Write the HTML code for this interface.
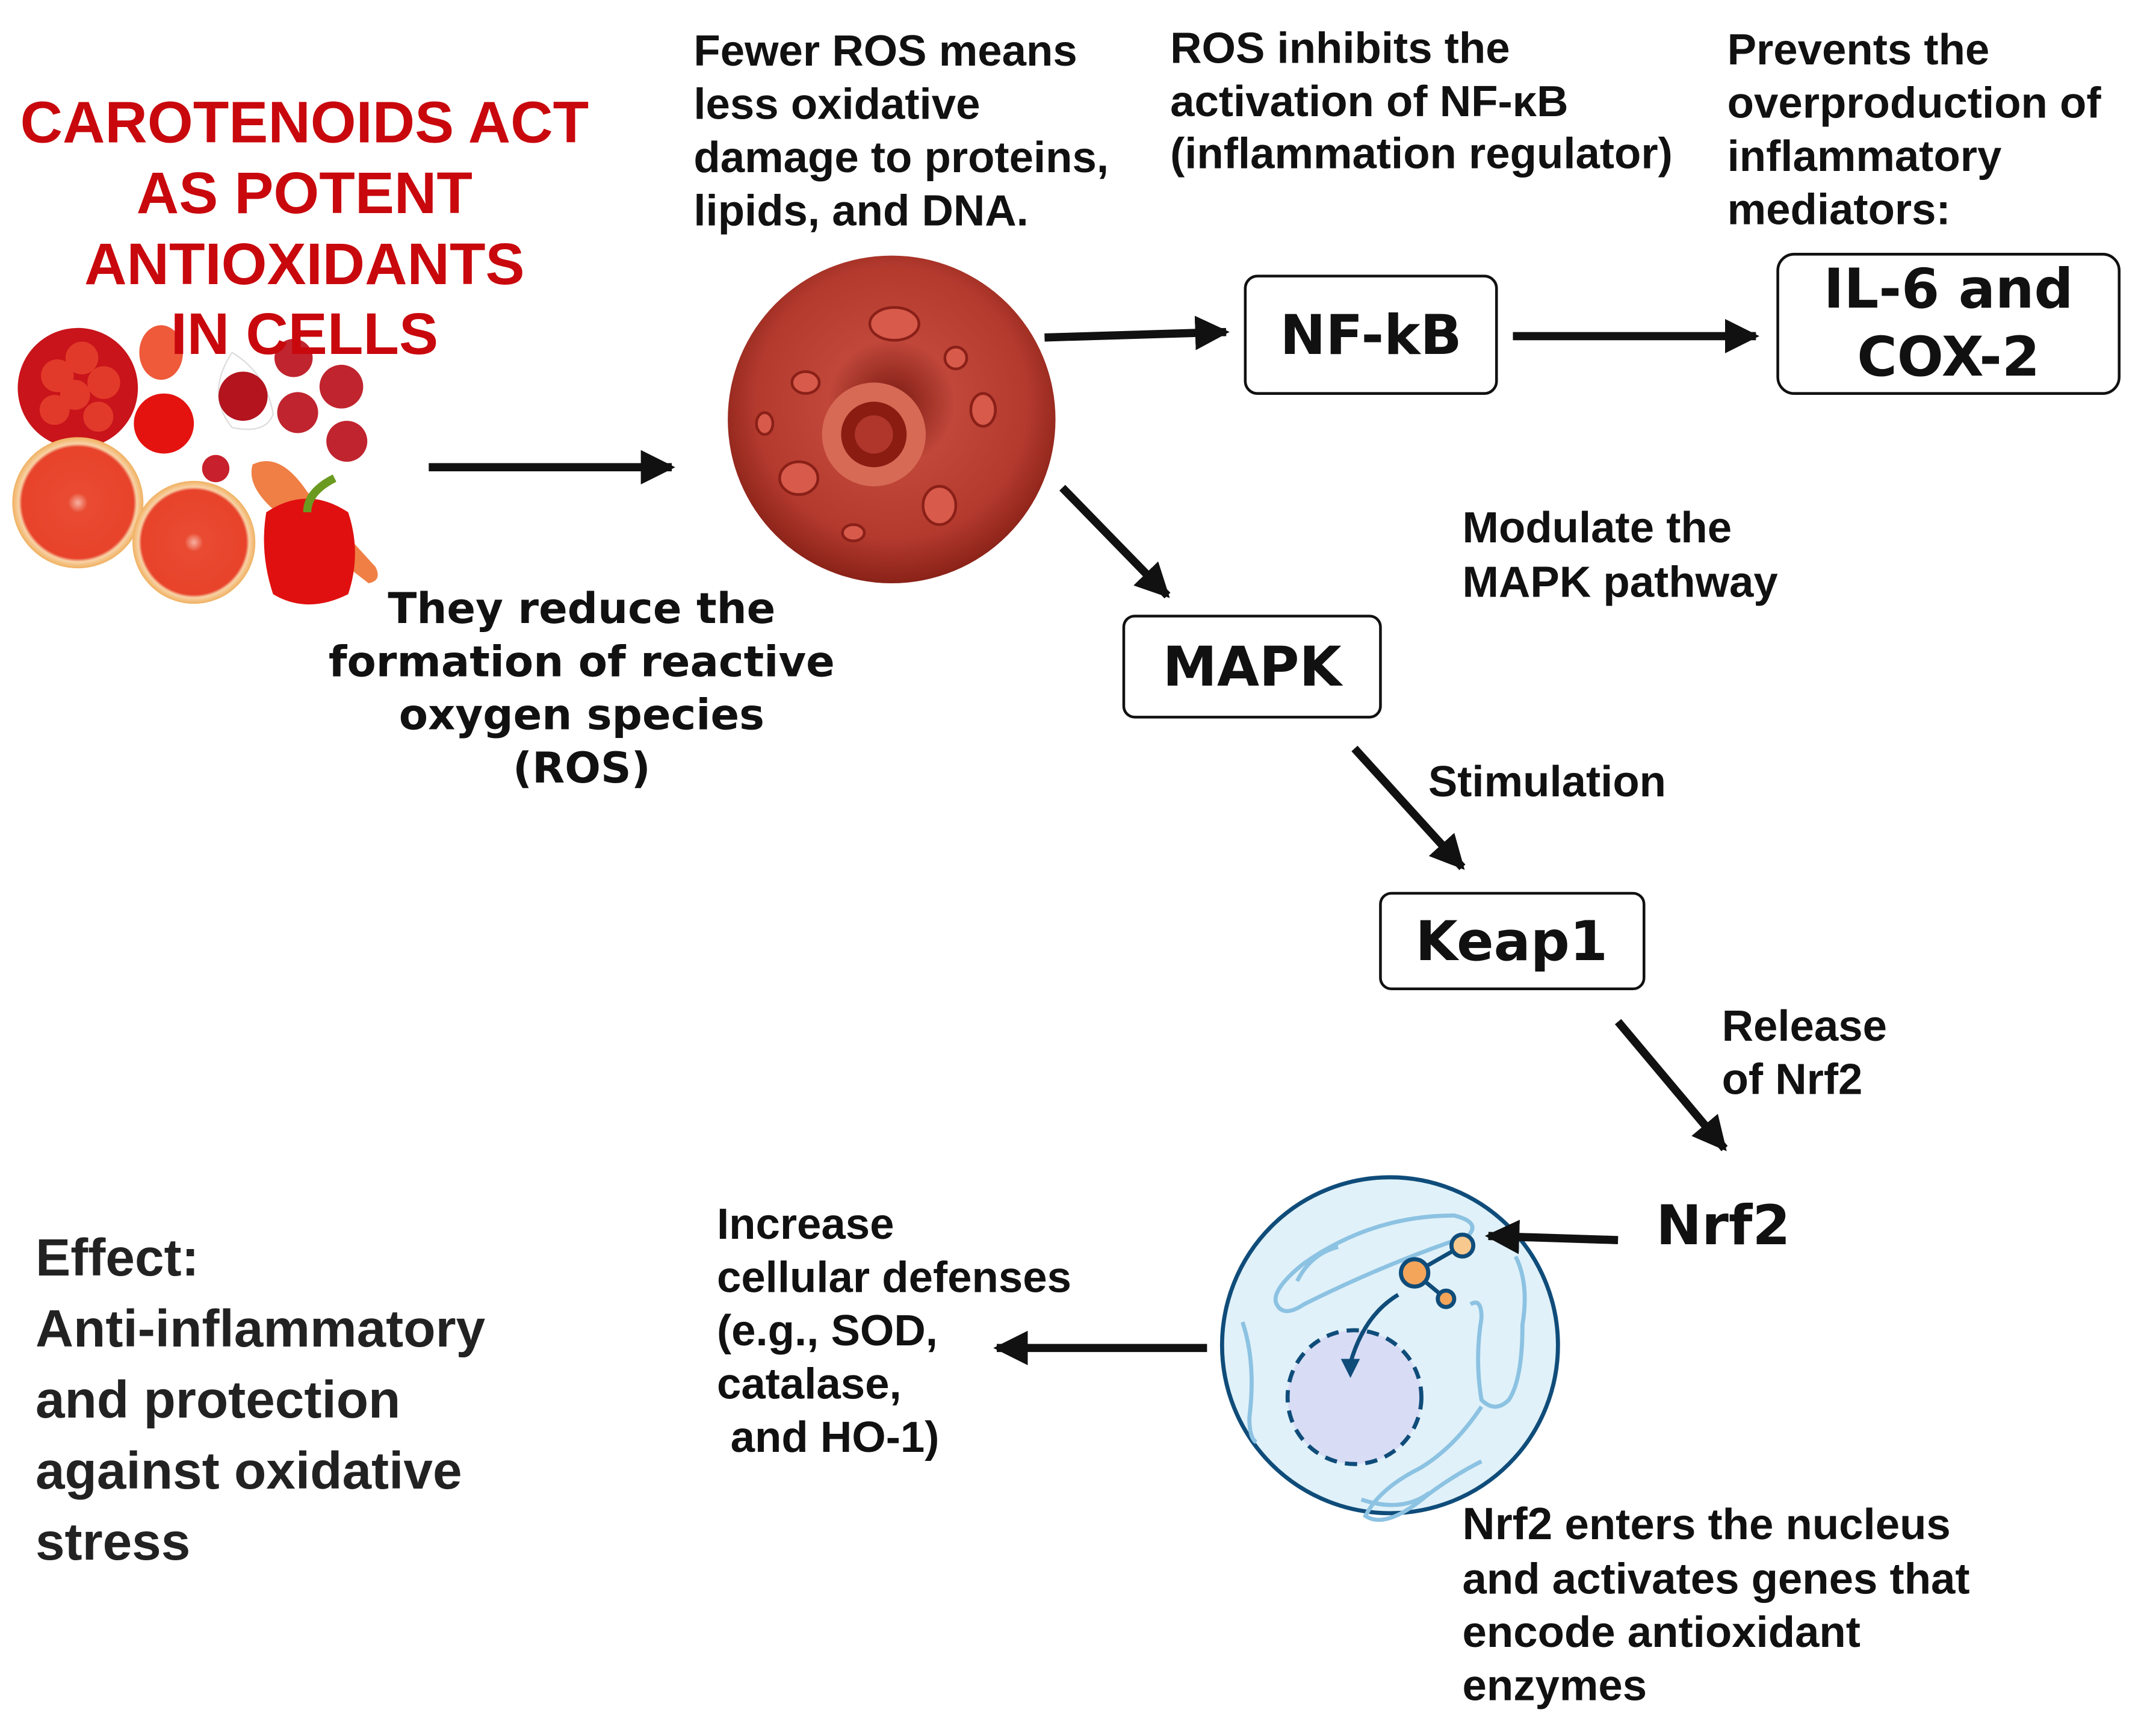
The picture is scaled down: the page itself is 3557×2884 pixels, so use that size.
<!DOCTYPE html>
<html><head><meta charset="utf-8"><style>
html,body{margin:0;padding:0;background:#fff}
svg{display:block}
text{font-family:"Liberation Sans",Arial,sans-serif}
.dv text{font-family:"DejaVu Sans","Liberation Sans",sans-serif}
</style></head><body>
<svg width="3557" height="2884" viewBox="0 0 1568 1271" xmlns="http://www.w3.org/2000/svg">
<defs>
<marker id="ah" viewBox="0 0 10 10" refX="9" refY="5" markerWidth="4.2" markerHeight="4.2" orient="auto" markerUnits="strokeWidth">
<path d="M0,0 L10,5 L0,10 Z" fill="#111"/></marker>
<radialGradient id="cellg" cx="50%" cy="45%" r="55%">
<stop offset="0" stop-color="#7a1a12"/><stop offset="0.35" stop-color="#c0473a"/><stop offset="0.75" stop-color="#b43a2e"/><stop offset="1" stop-color="#8a2218"/></radialGradient>
<radialGradient id="gf" cx="50%" cy="50%" r="50%"><stop offset="0" stop-color="#f7b0a0"/><stop offset="0.15" stop-color="#e94b32"/><stop offset="0.85" stop-color="#e8432b"/><stop offset="0.9" stop-color="#f8d2a6"/><stop offset="1" stop-color="#f0b060"/></radialGradient>
</defs>

<g>
<circle cx="57" cy="284" r="44" fill="#c8141a"/>
<circle cx="42" cy="275" r="12" fill="#e23a2a"/><circle cx="60" cy="262" r="12" fill="#e23a2a"/><circle cx="76" cy="280" r="12" fill="#e23a2a"/><circle cx="55" cy="289" r="11" fill="#e23a2a"/><circle cx="40" cy="300" r="11" fill="#e23a2a"/><circle cx="72" cy="305" r="11" fill="#e23a2a"/>
<ellipse cx="118" cy="258" rx="16" ry="20" fill="#ee5a3a"/>
<path d="M170,258 q-20,30 0,55 q25,5 30,-10 q-5,-30 -30,-45z" fill="#fff" stroke="#ddd"/>
<circle cx="178" cy="290" r="18" fill="#b3141e"/>
<circle cx="120" cy="310" r="22" fill="#e4130f"/>
<circle cx="215" cy="262" r="14" fill="#c0242e"/><circle cx="250" cy="283" r="16" fill="#c0242e"/><circle cx="218" cy="302" r="15" fill="#c0242e"/><circle cx="254" cy="323" r="15" fill="#c0242e"/><circle cx="158" cy="343" r="10" fill="#c8202c"/>
<path d="M185,340 q20,-10 40,20 l50,55 q5,10 -5,12 l-65,-50 q-25,-20 -20,-37z" fill="#ef7f45"/>
<circle cx="57" cy="368" r="48" fill="url(#gf)"/>
<circle cx="142" cy="397" r="45" fill="url(#gf)"/>
<path d="M195,375 q30,-20 60,0 q10,30 0,60 q-30,15 -55,0 q-10,-30 -5,-60z" fill="#e01010"/>
<path d="M225,375 q0,-15 20,-25" stroke="#6a9a20" stroke-width="6" fill="none"/>
</g>

<g font-weight="bold" font-size="43" fill="#c8080d" text-anchor="middle">
<text x="223" y="104">CAROTENOIDS ACT</text>
<text x="223" y="156">AS POTENT</text>
<text x="223" y="208">ANTIOXIDANTS</text>
<text x="223" y="259">IN CELLS</text>
</g>

<circle cx="653" cy="307" r="120" fill="url(#cellg)"/>
<g fill="#d85a4a" stroke="#8a2018" stroke-width="2">
<ellipse cx="655" cy="237" rx="18" ry="12"/><ellipse cx="590" cy="280" rx="10" ry="8"/><ellipse cx="585" cy="350" rx="14" ry="12"/><ellipse cx="688" cy="370" rx="12" ry="14"/><ellipse cx="720" cy="300" rx="9" ry="12"/><ellipse cx="700" cy="262" rx="8" ry="8"/><ellipse cx="625" cy="390" rx="8" ry="6"/><ellipse cx="560" cy="310" rx="6" ry="8"/>
</g>
<circle cx="640" cy="318" r="38" fill="#d76a55"/><circle cx="640" cy="318" r="24" fill="#8a1c12"/><circle cx="640" cy="318" r="14" fill="#b0352a"/>

<circle cx="1018" cy="985" r="123" fill="#e0f1f9" stroke="#0f4c7a" stroke-width="3"/>
<g stroke="#8cc2e2" stroke-width="3" fill="none">
<path d="M955,955 q60,-30 120,-50 q10,-10 -10,-15 q-60,0 -110,35 q-25,20 -20,30 q5,10 20,0z"/>
<path d="M980,913 q-20,5 -30,25"/>
<path d="M1110,920 q10,20 5,50 q0,40 -10,55 q-10,10 -20,0 q-5,-30 0,-60 q0,-15 -8,-10"/>
<path d="M1085,1030 q-20,30 -45,45 q-30,15 -40,35 q15,10 45,-15 q20,-15 40,-25"/>
<path d="M910,968 q10,30 5,70 q0,15 5,18"/>
<path d="M997,1098 q30,10 50,-5"/>
</g>
<circle cx="992" cy="1023" r="49" fill="#d8dcf5" stroke="#0f4c7a" stroke-width="3" stroke-dasharray="9,6"/>
<path d="M1024,948 q-25,15 -35,50" stroke="#0f4c7a" stroke-width="3" fill="none"/>
<path d="M982,995 l7,14 l7,-14z" fill="#0f4c7a"/>
<g stroke="#0f4c7a" stroke-width="3"><line x1="1036" y1="932" x2="1071" y2="912"/><line x1="1036" y1="932" x2="1059" y2="951"/></g>
<circle cx="1036" cy="932" r="10" fill="#f5a55a" stroke="#0f4c7a" stroke-width="3"/>
<circle cx="1071" cy="912" r="8" fill="#f8c98e" stroke="#0f4c7a" stroke-width="3"/>
<circle cx="1059" cy="951" r="6" fill="#f5a55a" stroke="#0f4c7a" stroke-width="3"/>

<g stroke="#111" stroke-width="6" fill="none" marker-end="url(#ah)">
<line x1="314" y1="342" x2="492" y2="342"/>
<line x1="765" y1="247" x2="898" y2="243"/>
<line x1="1108" y1="246" x2="1286" y2="246"/>
<line x1="778" y1="357" x2="855" y2="436"/>
<line x1="992" y1="548" x2="1071" y2="635"/>
<line x1="1185" y1="748" x2="1263" y2="841"/>
<line x1="1185" y1="908" x2="1090" y2="905"/>
<line x1="884" y1="987" x2="730" y2="987"/>
</g>

<g font-weight="bold" font-size="32" fill="#111">
<text x="508" y="48">Fewer ROS means</text>
<text x="508" y="87">less oxidative</text>
<text x="508" y="126">damage to proteins,</text>
<text x="508" y="165">lipids, and DNA.</text>
<text x="857" y="46">ROS inhibits the</text>
<text x="857" y="85">activation of NF-κB</text>
<text x="857" y="123">(inflammation regulator)</text>
<text x="1265" y="47">Prevents the</text>
<text x="1265" y="86">overproduction of</text>
<text x="1265" y="125">inflammatory</text>
<text x="1265" y="164">mediators:</text>
<text x="1071" y="397">Modulate the</text>
<text x="1071" y="437">MAPK pathway</text>
<text x="1046" y="583">Stimulation</text>
<text x="1261" y="762">Release</text>
<text x="1261" y="801">of Nrf2</text>
<text x="525" y="907">Increase</text>
<text x="525" y="946">cellular defenses</text>
<text x="525" y="985">(e.g., SOD,</text>
<text x="525" y="1024">catalase,</text>
<text x="535" y="1063">and HO-1)</text>
<text x="1071" y="1127"><tspan font-size="33">Nrf2</tspan> enters the nucleus</text>
<text x="1071" y="1167">and activates genes that</text>
<text x="1071" y="1206">encode antioxidant</text>
<text x="1071" y="1245">enzymes</text>
</g>
<g class="dv" font-weight="bold" font-size="31" fill="#111" text-anchor="middle">
<text x="426" y="456">They reduce the</text>
<text x="426" y="495">formation of reactive</text>
<text x="426" y="534">oxygen species</text>
<text x="426" y="573">(ROS)</text>
</g>

<g fill="#fff" stroke="#111" stroke-width="2">
<rect x="912" y="202" width="184" height="86" rx="9"/>
<rect x="1302" y="186" width="250" height="102" rx="12"/>
<rect x="823" y="451" width="188" height="74" rx="8"/>
<rect x="1011" y="654" width="193" height="70" rx="8"/>
</g>
<g class="dv" font-weight="bold" font-size="40" fill="#111" text-anchor="middle">
<text x="1004" y="259">NF-kB</text>
<text x="1427" y="225">IL-6 and</text>
<text x="1427" y="275">COX-2</text>
<text x="917" y="502">MAPK</text>
<text x="1107" y="703">Keap1</text>
<text x="1262" y="911">Nrf2</text>
</g>

<g font-weight="bold" font-size="38.5" fill="#222">
<text x="26" y="934">Effect:</text>
<text x="26" y="986">Anti-inflammatory</text>
<text x="26" y="1038">and protection</text>
<text x="26" y="1090">against oxidative</text>
<text x="26" y="1142">stress</text>
</g>
</svg>
</body></html>
